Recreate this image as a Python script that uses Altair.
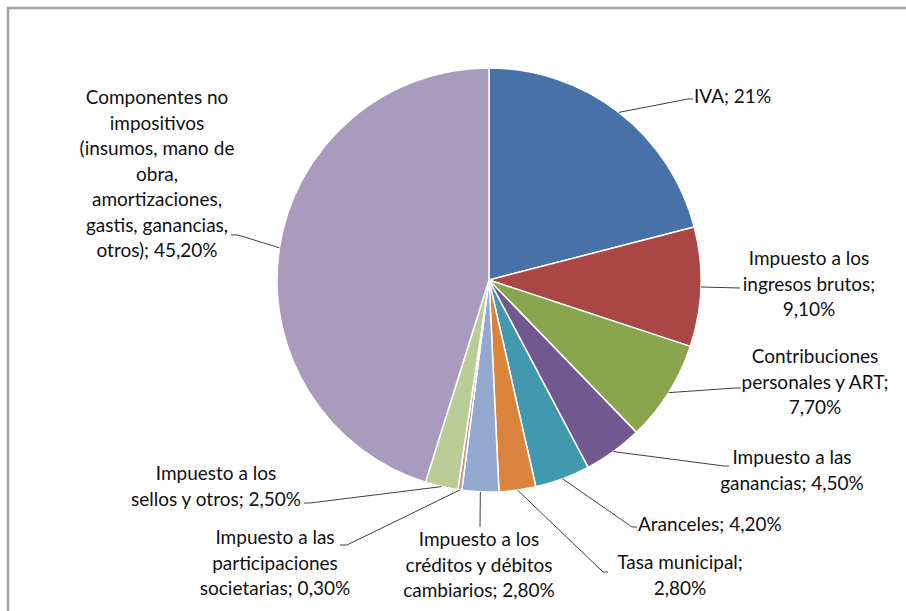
import math
import altair as alt
import pandas as pd

# ---------------- data ----------------
categories = [
    "IVA",
    "Impuesto a los ingresos brutos",
    "Contribuciones personales y ART",
    "Impuesto a las ganancias",
    "Aranceles",
    "Tasa municipal",
    "Impuesto a los créditos y débitos cambiarios",
    "Impuesto a las participaciones societarias",
    "Impuesto a los sellos y otros",
    "Componentes no impositivos (insumos, mano de obra, amortizaciones, gastis, ganancias, otros)",
]
values = [21, 9.1, 7.7, 4.5, 4.2, 2.8, 2.8, 0.3, 2.5, 45.2]
labels = [
    "IVA; 21%",
    "Impuesto a los\ningresos brutos;\n9,10%",
    "Contribuciones\npersonales y ART;\n7,70%",
    "Impuesto a las\nganancias; 4,50%",
    "Aranceles; 4,20%",
    "Tasa municipal;\n2,80%",
    "Impuesto a los\ncréditos y débitos\ncambiarios; 2,80%",
    "Impuesto a las\nparticipaciones\nsocietarias; 0,30%",
    "Impuesto a los\nsellos y otros; 2,50%",
    "Componentes no\nimpositivos\n(insumos, mano de\nobra,\namortizaciones,\ngastis, ganancias,\notros); 45,20%",
]
colors = ["#4672A8", "#AA4643", "#89A54E", "#71588F", "#4198AF",
          "#DB843D", "#93A9CF", "#D19392", "#B9CD96", "#A99BBD"]

# ---------------- layout (pixels) ----------------
W, H = 906, 611
CX, CY, R = 489, 280, 212
FONT = "Lato"
FS = 19
LH = 25.5
# label anchor (x, first-line y, align) and leader-line elbow/end points
label_layout = [
    (694, 97, "left",   [(688, 99), (693, 99)]),
    (809, 259, "center", [(740, 288)]),
    (815, 357, "center", [(735, 388), (741, 388)]),
    (792, 458, "center", [(724, 466), (729, 466)]),
    (638, 525, "left",   [(632, 527), (637, 527)]),
    (680, 563, "center", [(603, 572), (608, 572)]),
    (479, 540, "center", [(480, 527)]),
    (275, 538, "center", [(347, 545), (340, 545)]),
    (216, 474, "center", [(310, 503), (304, 503)]),
    (157, 98, "center", [(238, 235), (231, 235)]),
]

# ---------------- tables ----------------
pie_df = pd.DataFrame({"cat": categories, "value": values,
                       "idx": list(range(len(values)))})

total = sum(values)
cum = 0.0
lead_rows, lab_rows = [], []
for i, (v, lab, lay) in enumerate(zip(values, labels, label_layout)):
    mid = (cum + v / 2) / total * 2 * math.pi
    cum += v
    sx = CX + R * math.sin(mid)
    sy = CY - R * math.cos(mid)
    pts = [(sx, sy)] + lay[3]
    for k, (px, py) in enumerate(pts):
        lead_rows.append({"id": i, "k": k, "px": px, "py": py})
    lab_rows.append({"id": i, "text": lab, "lx": lay[0], "ly": lay[1], "align": lay[2]})

lead_df = pd.DataFrame(lead_rows)
lab_df = pd.DataFrame(lab_rows)

pie = alt.Chart(pie_df).mark_arc(
    outerRadius=R, stroke="white", strokeWidth=1.5
).encode(
    theta=alt.Theta("value:Q", stack=True),
    order=alt.Order("idx:Q", sort="ascending"),
    color=alt.Color("cat:N", scale=alt.Scale(domain=categories, range=colors), legend=None),
    x=alt.value(CX),
    y=alt.value(CY),
)

leaders = alt.Chart(lead_df).mark_line(color="#404040", strokeWidth=1).encode(
    x=alt.X("px:Q", scale=None, axis=None),
    y=alt.Y("py:Q", scale=None, axis=None),
    detail="id:N",
    order="k:Q",
)

def text_layer(align):
    return alt.Chart(lab_df[lab_df["align"] == align]).mark_text(
        align=align, baseline="middle", lineBreak="\n", lineHeight=LH,
        font=FONT, fontSize=FS, color="#111111",
    ).encode(
        x=alt.X("lx:Q", scale=None, axis=None),
        y=alt.Y("ly:Q", scale=None, axis=None),
        text="text:N",
    )

border = alt.Chart(pd.DataFrame({"a": [0]})).mark_rect(
    fillOpacity=0, stroke="#A0A0A0", strokeWidth=2.5
).encode(
    x=alt.value(8), x2=alt.value(960), y=alt.value(8), y2=alt.value(680)
)

chart = alt.layer(border, pie, leaders, text_layer("center"), text_layer("left")).properties(
    width=W, height=H, padding=0, autosize=alt.AutoSizeParams(type="none"),
    background="white",
).configure_view(stroke=None)

chart.save("out.html", embed_options={"renderer": "svg", "actions": False})
